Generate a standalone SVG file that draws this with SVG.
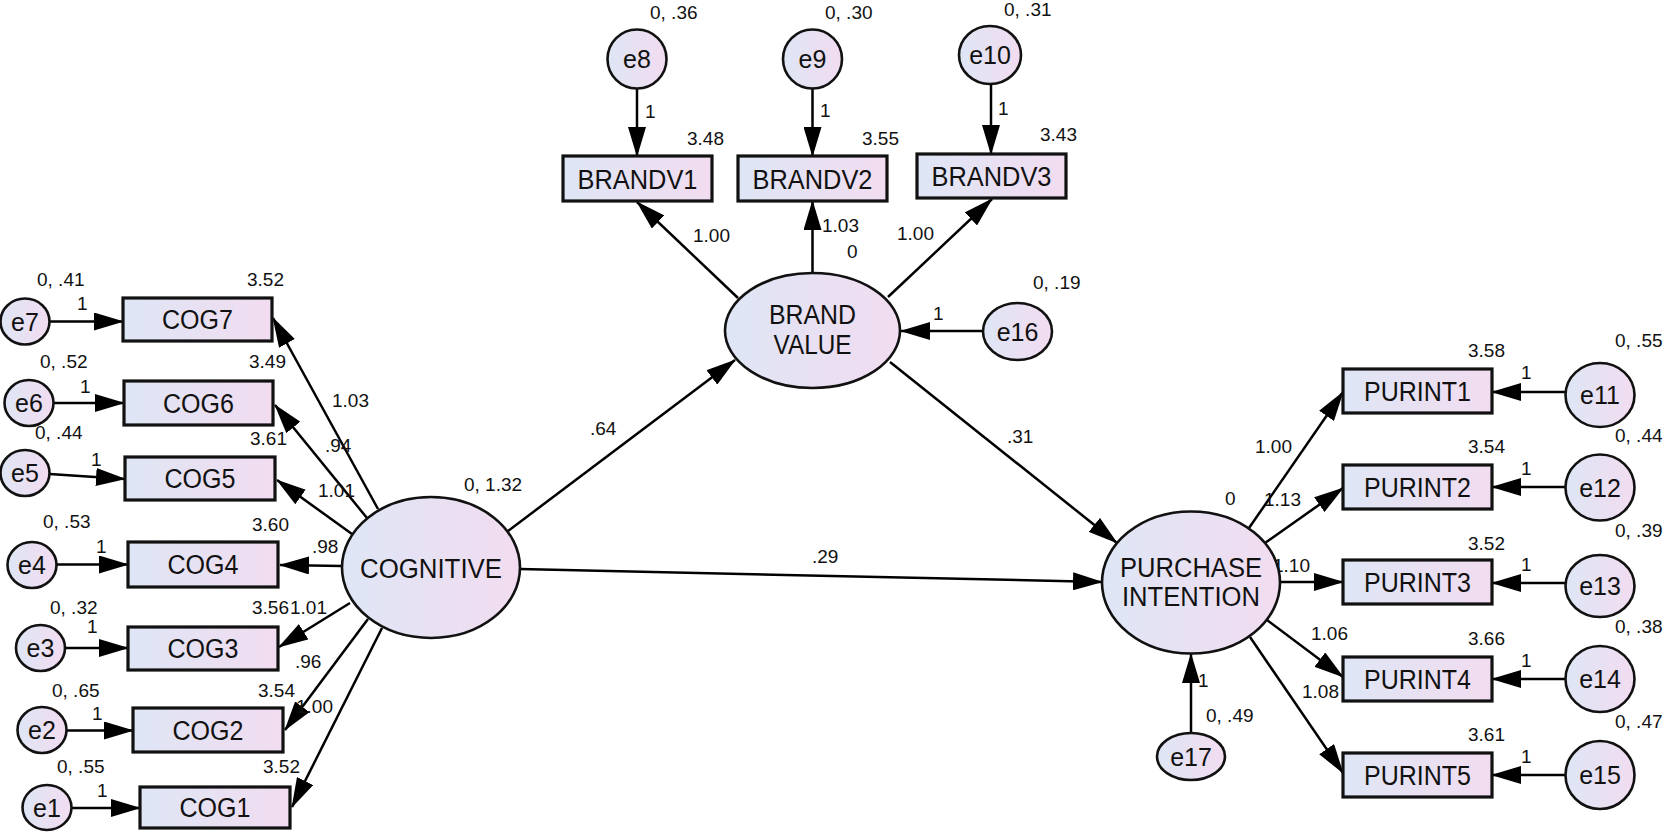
<svg xmlns="http://www.w3.org/2000/svg" width="1665" height="834" viewBox="0 0 1665 834">
<style>
.n{fill:url(#g);stroke:#111;stroke-width:3.2}
.c{fill:url(#g);stroke:#111;stroke-width:2.6}
.ln{stroke:#000;stroke-width:2.5;fill:none;marker-end:url(#arr)}
.lb{font-family:"Liberation Sans",Arial,sans-serif;font-size:27px;fill:#111;text-anchor:middle}
.el{font-family:"Liberation Sans",Arial,sans-serif;font-size:25px;fill:#111;text-anchor:middle}
.nm{font-family:"Liberation Sans",Arial,sans-serif;font-size:19px;fill:#111}
</style>
<defs>
<linearGradient id="g" x1="0" y1="0" x2="1" y2="0">
<stop offset="0" stop-color="#DEE6F5"/>
<stop offset="1" stop-color="#F2DCF0"/>
</linearGradient>
<marker id="arr" viewBox="0 0 30 18" markerWidth="30" markerHeight="18" refX="29" refY="9" orient="auto" markerUnits="userSpaceOnUse">
<path d="M0,0 L30,9 L0,18 z" fill="#000"/>
</marker>
</defs>
<rect width="1665" height="834" fill="#fff"/>

<g id="connectors">
<line class="ln" x1="49.5" y1="321.5" x2="123" y2="321.5"/>
<line class="ln" x1="53.5" y1="403" x2="124" y2="403"/>
<line class="ln" x1="49.5" y1="474" x2="125" y2="479"/>
<line class="ln" x1="56.5" y1="564.5" x2="128" y2="564.5"/>
<line class="ln" x1="65" y1="648" x2="128" y2="648"/>
<line class="ln" x1="66.5" y1="730.5" x2="133" y2="730.5"/>
<line class="ln" x1="71.5" y1="808" x2="140" y2="808"/>
<line class="ln" x1="378" y1="509" x2="273" y2="318"/>
<line class="ln" x1="367" y1="518" x2="275" y2="405"/>
<line class="ln" x1="352" y1="534" x2="277" y2="480"/>
<line class="ln" x1="342" y1="566" x2="280" y2="565"/>
<line class="ln" x1="350" y1="603" x2="279" y2="647"/>
<line class="ln" x1="368" y1="619" x2="285" y2="730"/>
<line class="ln" x1="382" y1="628" x2="292" y2="807"/>
<line class="ln" x1="508" y1="531" x2="735" y2="360"/>
<line class="ln" x1="520" y1="569" x2="1102" y2="582"/>
<line class="ln" x1="890" y1="362" x2="1117" y2="543"/>
<line class="ln" x1="738" y1="298" x2="637" y2="202"/>
<line class="ln" x1="812.5" y1="273" x2="812.5" y2="201"/>
<line class="ln" x1="888" y1="297" x2="992" y2="199"/>
<line class="ln" x1="637" y1="88.5" x2="637" y2="156"/>
<line class="ln" x1="812.5" y1="88.5" x2="812.5" y2="156"/>
<line class="ln" x1="991" y1="84" x2="991" y2="154"/>
<line class="ln" x1="983" y1="331" x2="901" y2="331"/>
<line class="ln" x1="1191" y1="733" x2="1191" y2="654"/>
<line class="ln" x1="1249" y1="528" x2="1343" y2="392"/>
<line class="ln" x1="1265" y1="543" x2="1343" y2="488"/>
<line class="ln" x1="1280" y1="582" x2="1343" y2="582"/>
<line class="ln" x1="1267" y1="620" x2="1343" y2="677"/>
<line class="ln" x1="1250" y1="637" x2="1343" y2="773"/>
<line class="ln" x1="1565.5" y1="392" x2="1492" y2="392"/>
<line class="ln" x1="1565.5" y1="487" x2="1492" y2="487"/>
<line class="ln" x1="1565.5" y1="583" x2="1492" y2="583"/>
<line class="ln" x1="1565.5" y1="679" x2="1492" y2="679"/>
<line class="ln" x1="1565.5" y1="775" x2="1492" y2="775"/>
<g class="nm">
<text x="332" y="407">1.03</text>
<text x="325" y="452">.94</text>
<text x="318" y="497">1.01</text>
<text x="312" y="553">.98</text>
<text x="290" y="614">1.01</text>
<text x="295" y="668">.96</text>
<text x="296" y="713">1.00</text>
<text x="77" y="310">1</text>
<text x="80" y="393">1</text>
<text x="91" y="466">1</text>
<text x="96" y="553">1</text>
<text x="87" y="633">1</text>
<text x="92" y="720">1</text>
<text x="97" y="797">1</text>
<text x="590" y="435">.64</text>
<text x="812" y="563">.29</text>
<text x="1007" y="443">.31</text>
<text x="693" y="242">1.00</text>
<text x="822" y="232">1.03</text>
<text x="897" y="240">1.00</text>
<text x="645" y="118">1</text>
<text x="820" y="117">1</text>
<text x="998" y="115">1</text>
<text x="933" y="320">1</text>
<text x="1198" y="687">1</text>
<text x="1255" y="453">1.00</text>
<text x="1264" y="506">1.13</text>
<text x="1273" y="572">1.10</text>
<text x="1311" y="640">1.06</text>
<text x="1302" y="698">1.08</text>
<text x="1521" y="379">1</text>
<text x="1521" y="475">1</text>
<text x="1521" y="571">1</text>
<text x="1521" y="667">1</text>
<text x="1521" y="763">1</text>
</g>
</g>

<g id="COGNITIVE"><ellipse class="c" cx="431" cy="567.5" rx="89" ry="70.5"/><text class="lb" x="431" y="578" font-size="28" textLength="142" lengthAdjust="spacingAndGlyphs">COGNITIVE</text><text class="nm" x="464" y="491">0, 1.32</text></g>
<g id="BRANDVALUE"><ellipse class="c" cx="812.5" cy="330.5" rx="87.5" ry="57.5"/><text class="lb" x="812.5" y="324" textLength="87" lengthAdjust="spacingAndGlyphs">BRAND</text><text class="lb" x="812.5" y="354" textLength="78" lengthAdjust="spacingAndGlyphs">VALUE</text><text class="nm" x="847" y="258">0</text></g>
<g id="PURCHASEINTENTION"><ellipse class="c" cx="1191" cy="582.5" rx="89" ry="71"/><text class="lb" x="1191" y="577" textLength="142" lengthAdjust="spacingAndGlyphs">PURCHASE</text><text class="lb" x="1191" y="606" textLength="138" lengthAdjust="spacingAndGlyphs">INTENTION</text><text class="nm" x="1225" y="505">0</text></g>

<g id="COG7"><rect class="n" x="123" y="298" width="149" height="43"/><text class="lb" x="197.5" y="329" textLength="71" lengthAdjust="spacingAndGlyphs">COG7</text><text class="nm" x="247" y="286">3.52</text></g>
<g id="COG6"><rect class="n" x="124" y="381" width="149" height="44"/><text class="lb" x="198.5" y="412.5" textLength="71" lengthAdjust="spacingAndGlyphs">COG6</text><text class="nm" x="249" y="368">3.49</text></g>
<g id="COG5"><rect class="n" x="125" y="457" width="150" height="43"/><text class="lb" x="200" y="488" textLength="71" lengthAdjust="spacingAndGlyphs">COG5</text><text class="nm" x="250" y="445">3.61</text></g>
<g id="COG4"><rect class="n" x="128" y="542" width="150" height="45"/><text class="lb" x="203" y="574" textLength="71" lengthAdjust="spacingAndGlyphs">COG4</text><text class="nm" x="252" y="531">3.60</text></g>
<g id="COG3"><rect class="n" x="128" y="627" width="150" height="43"/><text class="lb" x="203" y="658" textLength="71" lengthAdjust="spacingAndGlyphs">COG3</text><text class="nm" x="252" y="614">3.56</text></g>
<g id="COG2"><rect class="n" x="133" y="708" width="150" height="44"/><text class="lb" x="208" y="739.5" textLength="71" lengthAdjust="spacingAndGlyphs">COG2</text><text class="nm" x="258" y="697">3.54</text></g>
<g id="COG1"><rect class="n" x="140" y="787" width="150" height="41"/><text class="lb" x="215" y="817" textLength="71" lengthAdjust="spacingAndGlyphs">COG1</text><text class="nm" x="263" y="773">3.52</text></g>

<g id="e7"><ellipse class="c" cx="25" cy="321.5" rx="24.5" ry="23"/><text class="el" x="25" y="330.5">e7</text><text class="nm" x="37" y="286">0, .41</text></g>
<g id="e6"><ellipse class="c" cx="29" cy="403" rx="24.5" ry="23"/><text class="el" x="29" y="412">e6</text><text class="nm" x="40" y="368">0, .52</text></g>
<g id="e5"><ellipse class="c" cx="25" cy="473" rx="24.5" ry="23"/><text class="el" x="25" y="482">e5</text><text class="nm" x="35" y="439">0, .44</text></g>
<g id="e4"><ellipse class="c" cx="32" cy="565" rx="24.5" ry="23"/><text class="el" x="32" y="574">e4</text><text class="nm" x="43" y="528">0, .53</text></g>
<g id="e3"><ellipse class="c" cx="40.5" cy="648" rx="24.5" ry="23"/><text class="el" x="40.5" y="657">e3</text><text class="nm" x="50" y="614">0, .32</text></g>
<g id="e2"><ellipse class="c" cx="42" cy="730" rx="24.5" ry="23"/><text class="el" x="42" y="739">e2</text><text class="nm" x="52" y="697">0, .65</text></g>
<g id="e1"><ellipse class="c" cx="47" cy="807.5" rx="24.5" ry="22.5"/><text class="el" x="47" y="816.5">e1</text><text class="nm" x="57" y="773">0, .55</text></g>

<g id="BRANDV1"><rect class="n" x="563" y="156" width="149" height="45"/><text class="lb" x="637.5" y="188.5" textLength="120" lengthAdjust="spacingAndGlyphs">BRANDV1</text><text class="nm" x="687" y="145">3.48</text></g>
<g id="BRANDV2"><rect class="n" x="738" y="156" width="149" height="45"/><text class="lb" x="812.5" y="188.5" textLength="120" lengthAdjust="spacingAndGlyphs">BRANDV2</text><text class="nm" x="862" y="145">3.55</text></g>
<g id="BRANDV3"><rect class="n" x="917" y="154" width="149" height="44"/><text class="lb" x="991.5" y="185.5" textLength="120" lengthAdjust="spacingAndGlyphs">BRANDV3</text><text class="nm" x="1040" y="141">3.43</text></g>

<g id="e8"><ellipse class="c" cx="637" cy="59" rx="29.5" ry="29.5"/><text class="el" x="637" y="68">e8</text><text class="nm" x="650" y="19">0, .36</text></g>
<g id="e9"><ellipse class="c" cx="812.5" cy="59" rx="29.5" ry="29.5"/><text class="el" x="812.5" y="68">e9</text><text class="nm" x="825" y="19">0, .30</text></g>
<g id="e10"><ellipse class="c" cx="990" cy="55" rx="31" ry="29"/><text class="el" x="990" y="64">e10</text><text class="nm" x="1004" y="16">0, .31</text></g>
<g id="e16"><ellipse class="c" cx="1017.5" cy="331.5" rx="34.5" ry="28.5"/><text class="el" x="1017.5" y="340.5">e16</text><text class="nm" x="1033" y="289">0, .19</text></g>
<g id="e17"><ellipse class="c" cx="1191" cy="756.5" rx="34" ry="23.5"/><text class="el" x="1191" y="765.5">e17</text><text class="nm" x="1206" y="722">0, .49</text></g>

<g id="PURINT1"><rect class="n" x="1343" y="369" width="149" height="44"/><text class="lb" x="1417.5" y="400.5" textLength="107" lengthAdjust="spacingAndGlyphs">PURINT1</text><text class="nm" x="1468" y="357">3.58</text></g>
<g id="PURINT2"><rect class="n" x="1343" y="465" width="149" height="44"/><text class="lb" x="1417.5" y="496.5" textLength="107" lengthAdjust="spacingAndGlyphs">PURINT2</text><text class="nm" x="1468" y="453">3.54</text></g>
<g id="PURINT3"><rect class="n" x="1343" y="560" width="149" height="44"/><text class="lb" x="1417.5" y="591.5" textLength="107" lengthAdjust="spacingAndGlyphs">PURINT3</text><text class="nm" x="1468" y="550">3.52</text></g>
<g id="PURINT4"><rect class="n" x="1343" y="657" width="149" height="44"/><text class="lb" x="1417.5" y="688.5" textLength="107" lengthAdjust="spacingAndGlyphs">PURINT4</text><text class="nm" x="1468" y="645">3.66</text></g>
<g id="PURINT5"><rect class="n" x="1343" y="753" width="149" height="44"/><text class="lb" x="1417.5" y="784.5" textLength="107" lengthAdjust="spacingAndGlyphs">PURINT5</text><text class="nm" x="1468" y="741">3.61</text></g>

<g id="e11"><ellipse class="c" cx="1600" cy="395" rx="34.5" ry="32"/><text class="el" x="1600" y="404">e11</text><text class="nm" x="1615" y="347">0, .55</text></g>
<g id="e12"><ellipse class="c" cx="1600" cy="487.5" rx="34.5" ry="33"/><text class="el" x="1600" y="496.5">e12</text><text class="nm" x="1615" y="442">0, .44</text></g>
<g id="e13"><ellipse class="c" cx="1600" cy="586" rx="34.5" ry="31"/><text class="el" x="1600" y="595">e13</text><text class="nm" x="1615" y="537">0, .39</text></g>
<g id="e14"><ellipse class="c" cx="1600" cy="679" rx="34.5" ry="33"/><text class="el" x="1600" y="688">e14</text><text class="nm" x="1615" y="633">0, .38</text></g>
<g id="e15"><ellipse class="c" cx="1600" cy="775" rx="34.5" ry="34"/><text class="el" x="1600" y="784">e15</text><text class="nm" x="1615" y="728">0, .47</text></g>
</svg>
